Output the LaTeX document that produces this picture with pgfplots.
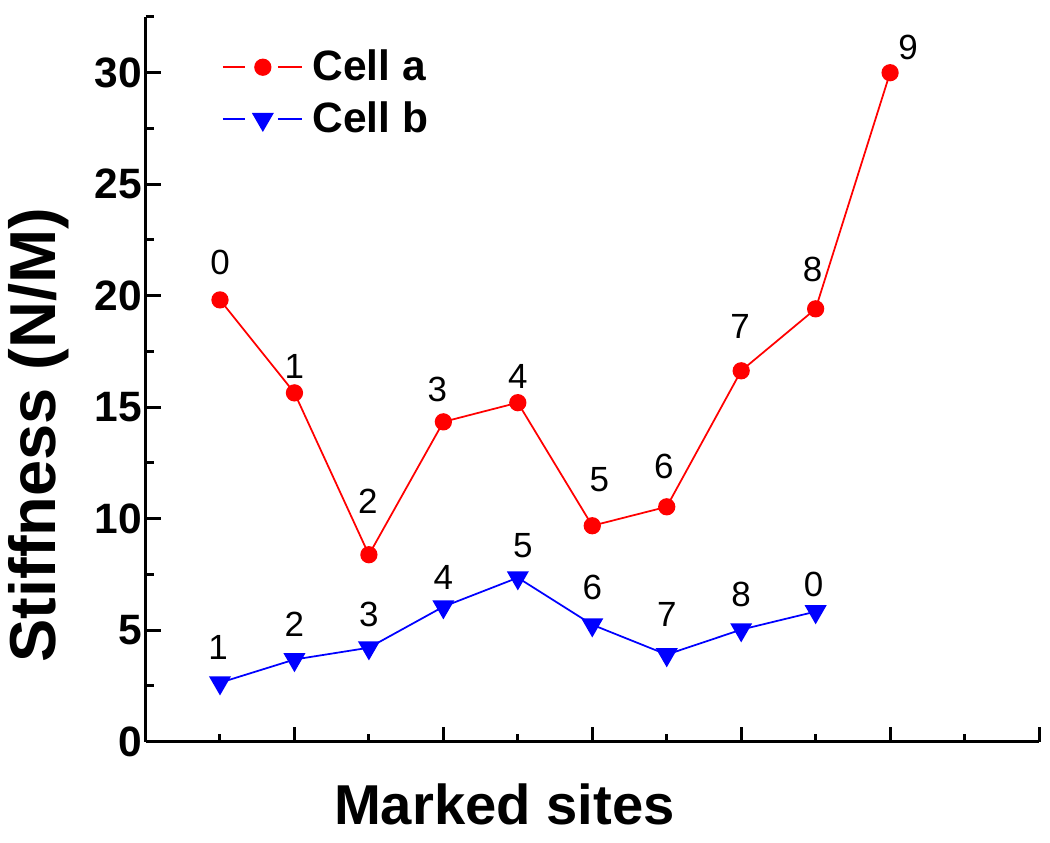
\documentclass[border=0pt]{standalone}
\usepackage{fontspec}
\setmainfont{Liberation Sans}
\usepackage{pgfplots}
\usepackage{pgfplotstable}
\pgfplotsset{compat=1.18}

% x y label, then label shift in pt
\pgfplotstableread{
x y lab dx dy
1 19.81 0 0 14.8
2 15.64 1 0 10.4
3 8.38 2 -0.4 21.2
4 14.34 3 -2.4 12.8
5 15.20 4 0 10.4
6 9.68 5 2.8 18.4
7 10.53 6 -1.2 16
8 16.63 7 -0.4 17.6
9 19.41 8 -1.2 15.6
10 30.0 9 7.2 10
}\cella

\pgfplotstableread{
x y lab dx dy
1 2.64 1 -0.8 14
2 3.68 2 0 14
3 4.21 3 0 13.2
4 6.05 4 0 11.6
5 7.35 5 2 12.8
6 5.24 6 0 14.8
7 3.90 7 0 16
8 5.02 8 0 14
9 5.83 0 -0.8 10.8
}\cellb

\begin{document}
\begin{tikzpicture}
\begin{axis}[
  scale only axis, width=357.6pt, height=290pt,
  xmin=0, xmax=12, ymin=0, ymax=32.5,
  axis lines=left, axis line style={-, line width=1.3pt},
  tick align=inside,
  xtick={2,4,...,12}, minor xtick={1,3,...,11}, xticklabel=\empty,
  ytick={0,5,...,30}, minor ytick={2.5,7.5,...,32.5},
  major tick length=6pt, minor tick length=3.2pt,
  tick style={black, line width=1.2pt},
  /pgf/number format/assume math mode=true,
  yticklabel style={font=\bfseries\fontsize{17}{17}\selectfont, xshift=2pt},
  xlabel={Marked sites}, ylabel={Stiffness (N/M)},
  every axis x label/.style={at={(axis description cs:0.4016,0)}, anchor=center, yshift=-25.2pt,
    font=\bfseries\fontsize{22.5}{22.5}\selectfont},
  every axis y label/.style={at={(axis description cs:0,0.423)}, anchor=center, xshift=-42.8pt, rotate=90,
    font=\bfseries\fontsize{26}{26}\selectfont},
  clip=false,
  point meta=explicit symbolic,
  nodes near coords,
  visualization depends on={\thisrow{dx}\as\ldx},
  visualization depends on={\thisrow{dy}\as\ldy},
  every node near coord/.append style={anchor=center, text=black, xshift=\ldx pt, yshift=\ldy pt,
    font=\fontsize{14}{14}\selectfont},
  legend style={draw=none, fill=none, inner sep=0pt, at={(axis description cs:0.085,1)}, anchor=north west,
    yshift=-11pt, font=\bfseries\fontsize{17}{17}\selectfont, nodes={inner sep=2pt}, row sep=3pt,
    /tikz/every odd column/.append style={column sep=2pt}},
  legend cell align=left,
  legend image code/.code={
    \draw[#1, mark=none] (0pt,0pt) -- (9pt,0pt);
    \draw[#1, mark=none] (22pt,0pt) -- (31.6pt,0pt);
    \path[#1] plot coordinates {(16pt,0pt)};
  },
]
\addplot[red, line width=0.7pt, mark=*, mark size=3.1pt, mark options={solid, fill=red, draw=red}]
  table[x=x, y=y, meta=lab] {\cella};
\addlegendentry{Cell a}
\addplot[blue, line width=0.7pt, mark=triangle*, mark size=4.4pt, mark options={solid, rotate=180, fill=blue, draw=blue}]
  table[x=x, y=y, meta=lab] {\cellb};
\addlegendentry{Cell b}
\end{axis}
\path ([shift={(-58pt,-40.4pt)}]current axis.south west) rectangle ([shift={(4.4pt,6.8pt)}]current axis.north east);
\end{tikzpicture}
\end{document}
